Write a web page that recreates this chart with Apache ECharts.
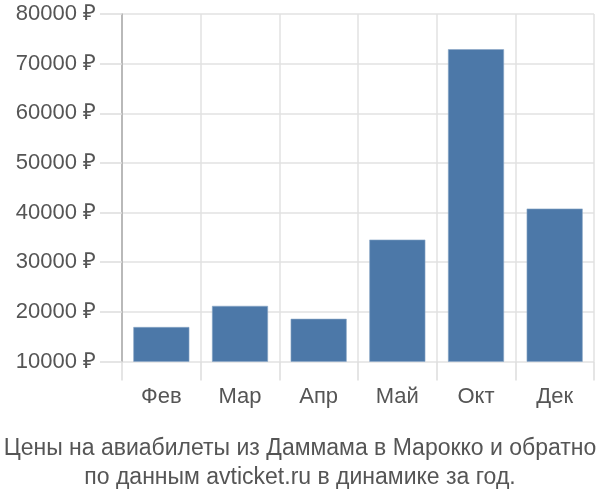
<!DOCTYPE html>
<html>
<head>
<meta charset="utf-8">
<script src="https://cdn.jsdelivr.net/npm/echarts@6/dist/echarts.min.js"></script>
<style>
  html, body { margin: 0; padding: 0; background: #fff; }
  #main { width: 600px; height: 500px; }
</style>
</head>
<body>
<div id="main"></div>
<script>
// данные графика
var months = ['Фев', 'Мар', 'Апр', 'Май', 'Окт', 'Дек'];
var prices = [16950, 21200, 18600, 34550, 72900, 40800];
var yMin = 10000;
var yMax = 80000;
var yStep = 10000;
var titleLines = [
  'Цены на авиабилеты из Даммама в Марокко и обратно',
  'по данным avticket.ru в динамике за год.'
];

var chart = echarts.init(document.getElementById('main'));

chart.setOption({
  animation: false,
  textStyle: { fontFamily: 'Liberation Sans, Arial, sans-serif' },
  title: {
    text: titleLines.join('\n'),
    left: 'center',
    top: 429,
    textStyle: {
      fontSize: 23,
      fontWeight: 'normal',
      color: '#555',
      lineHeight: 29
    }
  },
  grid: {
    left: 122,
    right: 6,
    top: 14,
    bottom: 138.5
  },
  xAxis: {
    type: 'category',
    data: months,
    axisLine: { show: false },
    axisTick: {
      show: true,
      interval: 0,
      length: 19,
      lineStyle: { color: '#ddd', width: 1.5 }
    },
    splitLine: {
      show: true,
      interval: 0,
      lineStyle: { color: '#e2e2e2', width: 1.5 }
    },
    axisLabel: {
      margin: 24,
      fontSize: 22,
      color: '#555'
    }
  },
  yAxis: {
    type: 'value',
    min: yMin,
    max: yMax,
    interval: yStep,
    axisLine: { show: true, lineStyle: { color: '#aaa', width: 1.5 } },
    axisTick: {
      show: true,
      length: 22,
      lineStyle: { color: '#ddd', width: 1.5 }
    },
    splitLine: { lineStyle: { color: '#e2e2e2', width: 1.5 } },
    axisLabel: {
      margin: 26,
      fontSize: 22,
      color: '#555',
      formatter: function (v) { return v + ' ₽'; }
    }
  },
  series: [{
    type: 'bar',
    data: prices,
    barWidth: 56,
    itemStyle: {
      color: '#4c78a8',
      borderColor: '#8aa6c6',
      borderWidth: 0.6
    }
  }]
});
</script>
</body>
</html>
